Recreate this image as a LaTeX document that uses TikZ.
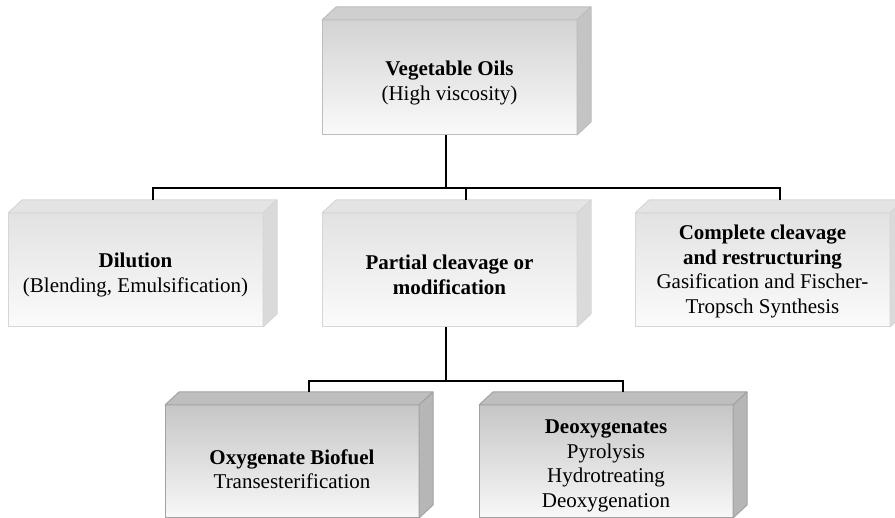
\documentclass[tikz,border=0pt]{standalone}
\usepackage{fontspec}
\setmainfont{Liberation Serif}
\definecolor{tTop}{HTML}{D3D3D3}
\definecolor{tBot}{HTML}{FAFAFA}
\definecolor{tLid}{HTML}{CFCFCF}
\definecolor{tSide}{HTML}{C4C4C4}
\definecolor{tLine}{HTML}{BDBDBD}
\definecolor{mTop}{HTML}{E2E2E2}
\definecolor{mBot}{HTML}{FBFBFB}
\definecolor{mLid}{HTML}{E4E4E4}
\definecolor{mSide}{HTML}{DADADA}
\definecolor{mLine}{HTML}{D6D6D6}
\definecolor{bTop}{HTML}{C6C6C6}
\definecolor{bBot}{HTML}{F8F8F8}
\definecolor{bLid}{HTML}{BEBEBE}
\definecolor{bSide}{HTML}{B6B6B6}
\definecolor{bLine}{HTML}{A2A2A2}
\newcommand{\boxfaces}[4]{%
  \filldraw[fill=#2,draw=#4,line width=1pt,line join=round]
    (#1.north west) -- ++(14,13) -- ([shift={(14,13)}]#1.north east) -- (#1.north east) -- cycle;
  \filldraw[fill=#3,draw=#4,line width=1pt,line join=round]
    (#1.north east) -- ++(14,13) -- ([shift={(14,13)}]#1.south east) -- (#1.south east) -- cycle;}
\begin{document}
\begin{tikzpicture}[x=1pt,y=1pt,
  conn/.style={line width=2.3pt,draw=black},
  frontbox/.style={line width=1pt, minimum width=255pt, minimum height=114pt,
    inner sep=0pt, outer sep=0pt},
  topbox/.style={frontbox, draw=tLine, top color=tTop, bottom color=tBot, minimum height=115pt},
  midbox/.style={frontbox, draw=mLine, top color=mTop, bottom color=mBot},
  lowbox/.style={frontbox, draw=bLine, top color=bTop, bottom color=bBot, minimum width=254pt, minimum height=113pt},
  boxtext/.style={align=center, inner sep=0pt, font=\fontsize{21}{24.5}\selectfont}
]
\useasboundingbox (0,0) rectangle (895,518);
\clip (0,0) rectangle (895,518);

% top box
\node[topbox] (top) at (449.5,440.5) {};
\boxfaces{top}{tLid}{tSide}{tLine}
\node[boxtext] (topT) at ([yshift=-5.5pt]top.center) {\textbf{Vegetable Oils}\\(High viscosity)};

% middle row
\node[midbox] (dil) at (135.5,248) {};
\boxfaces{dil}{mLid}{mSide}{mLine}
\node[boxtext] (dilT) at ([yshift=-5pt]dil.center) {\textbf{Dilution}\\(Blending, Emulsification)};
\node[midbox] (part) at (449.5,248) {};
\boxfaces{part}{mLid}{mSide}{mLine}
\node[boxtext] (partT) at ([yshift=-5pt]part.center) {\textbf{Partial cleavage or}\\\textbf{modification}};
\node[midbox] (comp) at (762.5,248) {};
\boxfaces{comp}{mLid}{mSide}{mLine}
\node[boxtext] (compT) at ([yshift=-1.5pt]comp.center) {\textbf{Complete cleavage}\\\textbf{and restructuring}\\Gasification and Fischer-\\Tropsch Synthesis};

% bottom row
\node[lowbox] (oxy) at (292,56.5) {};
\boxfaces{oxy}{bLid}{bSide}{bLine}
\node[boxtext] (oxyT) at ([yshift=-7.5pt]oxy.center) {\textbf{Oxygenate Biofuel}\\Transesterification};
\node[lowbox] (deox) at (606,56.5) {};
\boxfaces{deox}{bLid}{bSide}{bLine}
\node[boxtext] (deoxT) at ([yshift=-4.5pt]deox.center) {\textbf{Deoxygenates}\\Pyrolysis\\Hydrotreating\\Deoxygenation};

% connectors
\coordinate (j1) at (446,330);
\coordinate (j2) at (446,137);
\draw[conn] ([xshift=-3.5pt]top.south) -- (j1);
\draw[conn] ([xshift=145pt,yshift=13pt]dil.north west) |- (j1) -| ([xshift=145pt,yshift=13pt]comp.north west);
\draw[conn] ([xshift=144pt,yshift=13pt]part.north west) -- ([xshift=144pt]part.north west |- j1);
\draw[conn] ([xshift=-3.5pt]part.south) -- (j2);
\draw[conn] ([xshift=144pt,yshift=13pt]oxy.north west) |- (j2) -| ([xshift=144pt,yshift=13pt]deox.north west);
\end{tikzpicture}
\end{document}
